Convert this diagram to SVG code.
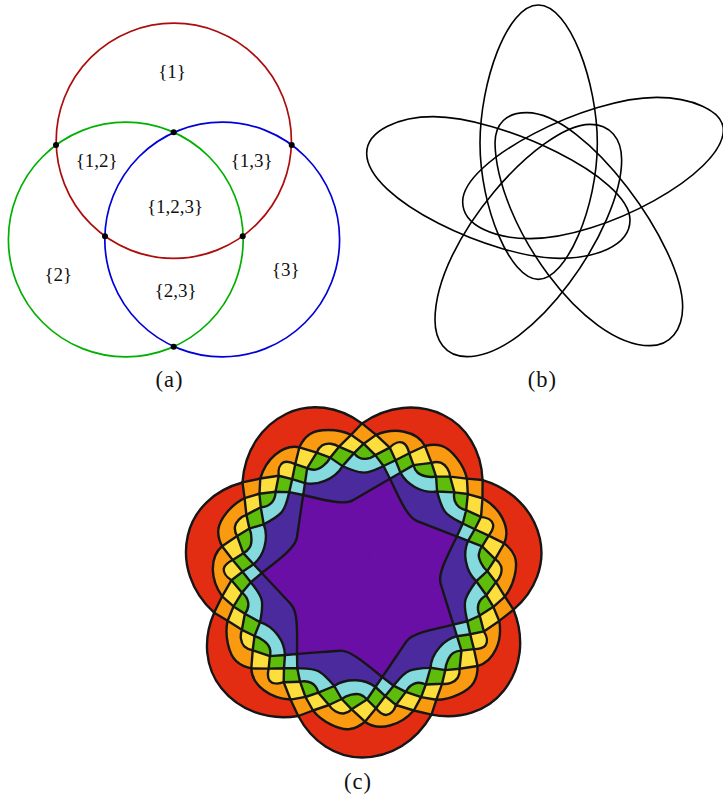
<svg xmlns="http://www.w3.org/2000/svg" xmlns:xlink="http://www.w3.org/1999/xlink" width="723" height="797" viewBox="0 0 723 797">
<style>
text{font-family:"Liberation Serif","Times New Roman",serif;fill:#111;text-anchor:middle}
.s{font-size:19px}
.c{font-size:22.5px;letter-spacing:1px}
.ring{fill:none;stroke-width:1.7}
.dot{fill:#000}
.oval{fill:none;stroke:#000;stroke-width:4.8}
.w{stroke-width:1;stroke-linejoin:round}
.b{fill:none;stroke:#161616;stroke-width:2.4;stroke-linejoin:round;stroke-linecap:round}
.r1{fill:#e32d13;stroke:#e32d13}.r2{fill:#fa9a10;stroke:#fa9a10}.r3{fill:#fcde3c;stroke:#fcde3c}.r4{fill:#5ebd0a;stroke:#5ebd0a}.r5{fill:#84dadd;stroke:#84dadd}.r6{fill:#4a2a9c;stroke:#4a2a9c}.r7{fill:#6a0fa6;stroke:#6a0fa6}
</style>
<defs>
<path id="w1" class="w r1" d="M363.5 577L298.3 716C312 742 336 757.5 362 757.5C390 757.5 416 742 431.5 714.7Z"/>
<path id="w2" class="w r2" d="M363.5 577L298.3 716L313 710.5C322 722 340 730.5 350 729C357 728 361 725 365 721.7C372 727 382 727.5 390 725.5C400 723 408 717 413.8 710.5L431.5 714.7Z"/>
<path id="w3" class="w r3" d="M363.5 577L305.5 697L313 710.5L329 705C332 710 338 714 343.5 713.5C347 713 350 711 351.7 709.3L365 721.7L376 708.3C379 712 382 715 386 715C390 715 394 711 396 705L413.8 710.5L421.1 697.1Z"/>
<path id="w4" class="w r4" d="M363.5 577L300 681.7L305.5 697L318.3 692.7L329 705L341.7 699L351.7 709.3L367 699.5L376 708.3L385.3 696.1L396 705L405.8 691.9Z"/>
<path id="w5" class="w r5" d="M363.5 577L297.3 668.3L300 681.7C308 680 316 683 318.3 692.7L334.3 686L341.7 699C347 695 356 693 360 694.5C363 695.5 365.5 697.5 367 699.5L375.5 687L385.3 696.1L393.6 685.7Z"/>
<path id="w6" class="w r6" d="M363.5 577L297.3 668.3C305 668.5 313 668 319 671.5C325 675 330 681 334.3 686C340 682 349 680 356 680.3C364 680.5 370 683 375.5 687L382.24 677L393.6 685.7Z"/>
<path id="w7" class="w r7" d="M363.5 577L297 654C312 653 328 651.5 340 650.7C350 650 365 663 382.24 677Z"/>
<g id="lines" class="b">
<path d="M298.3 716C312 742 336 757.5 362 757.5C390 757.5 416 742 431.5 714.7"/>
<path d="M298.3 716L313 710.5C322 722 340 730.5 350 729C357 728 361 725 365 721.7C372 727 382 727.5 390 725.5C400 723 408 717 413.8 710.5L431.5 714.7"/>
<path d="M305.5 697L313 710.5L329 705C332 710 338 714 343.5 713.5C347 713 350 711 351.7 709.3L365 721.7L376 708.3C379 712 382 715 386 715C390 715 394 711 396 705L413.8 710.5L421.1 697.1"/>
<path d="M300 681.7L305.5 697L318.3 692.7L329 705L341.7 699L351.7 709.3L367 699.5L376 708.3L385.3 696.1L396 705L405.8 691.9"/>
<path d="M297.3 668.3L300 681.7C308 680 316 683 318.3 692.7L334.3 686L341.7 699C347 695 356 693 360 694.5C363 695.5 365.5 697.5 367 699.5L375.5 687L385.3 696.1L393.6 685.7"/>
<path d="M297.3 668.3C305 668.5 313 668 319 671.5C325 675 330 681 334.3 686C340 682 349 680 356 680.3C364 680.5 370 683 375.5 687L382.24 677L393.6 685.7"/>
<path d="M297 654C312 653 328 651.5 340 650.7C350 650 365 663 382.24 677"/>
</g>
<g id="f1"><use href="#w1"/><use href="#w1" transform="rotate(51.42857 363.5 577)"/><use href="#w1" transform="rotate(102.85714 363.5 577)"/><use href="#w1" transform="rotate(154.28571 363.5 577)"/><use href="#w1" transform="rotate(205.71429 363.5 577)"/><use href="#w1" transform="rotate(257.14286 363.5 577)"/><use href="#w1" transform="rotate(308.57143 363.5 577)"/></g>
<g id="f2"><use href="#w2"/><use href="#w2" transform="rotate(51.42857 363.5 577)"/><use href="#w2" transform="rotate(102.85714 363.5 577)"/><use href="#w2" transform="rotate(154.28571 363.5 577)"/><use href="#w2" transform="rotate(205.71429 363.5 577)"/><use href="#w2" transform="rotate(257.14286 363.5 577)"/><use href="#w2" transform="rotate(308.57143 363.5 577)"/></g>
<g id="f3"><use href="#w3"/><use href="#w3" transform="rotate(51.42857 363.5 577)"/><use href="#w3" transform="rotate(102.85714 363.5 577)"/><use href="#w3" transform="rotate(154.28571 363.5 577)"/><use href="#w3" transform="rotate(205.71429 363.5 577)"/><use href="#w3" transform="rotate(257.14286 363.5 577)"/><use href="#w3" transform="rotate(308.57143 363.5 577)"/></g>
<g id="f4"><use href="#w4"/><use href="#w4" transform="rotate(51.42857 363.5 577)"/><use href="#w4" transform="rotate(102.85714 363.5 577)"/><use href="#w4" transform="rotate(154.28571 363.5 577)"/><use href="#w4" transform="rotate(205.71429 363.5 577)"/><use href="#w4" transform="rotate(257.14286 363.5 577)"/><use href="#w4" transform="rotate(308.57143 363.5 577)"/></g>
<g id="f5"><use href="#w5"/><use href="#w5" transform="rotate(51.42857 363.5 577)"/><use href="#w5" transform="rotate(102.85714 363.5 577)"/><use href="#w5" transform="rotate(154.28571 363.5 577)"/><use href="#w5" transform="rotate(205.71429 363.5 577)"/><use href="#w5" transform="rotate(257.14286 363.5 577)"/><use href="#w5" transform="rotate(308.57143 363.5 577)"/></g>
<g id="f6"><use href="#w6"/><use href="#w6" transform="rotate(51.42857 363.5 577)"/><use href="#w6" transform="rotate(102.85714 363.5 577)"/><use href="#w6" transform="rotate(154.28571 363.5 577)"/><use href="#w6" transform="rotate(205.71429 363.5 577)"/><use href="#w6" transform="rotate(257.14286 363.5 577)"/><use href="#w6" transform="rotate(308.57143 363.5 577)"/></g>
<g id="f7"><use href="#w7"/><use href="#w7" transform="rotate(51.42857 363.5 577)"/><use href="#w7" transform="rotate(102.85714 363.5 577)"/><use href="#w7" transform="rotate(154.28571 363.5 577)"/><use href="#w7" transform="rotate(205.71429 363.5 577)"/><use href="#w7" transform="rotate(257.14286 363.5 577)"/><use href="#w7" transform="rotate(308.57143 363.5 577)"/></g>
</defs>
<rect width="723" height="797" fill="#fff"/>
<g id="venn-a">
<circle class="ring" cx="173.8" cy="140.8" r="117.6" stroke="#ad0c0c"/>
<circle class="ring" cx="125.8" cy="239.5" r="117.4" stroke="#00b000"/>
<circle class="ring" cx="222.2" cy="239.5" r="117.4" stroke="#0000d8"/>
<circle class="dot" cx="56" cy="145" r="3"/><circle class="dot" cx="291.7" cy="145" r="3"/><circle class="dot" cx="173.7" cy="132.3" r="3"/><circle class="dot" cx="105" cy="236.3" r="3"/><circle class="dot" cx="242.7" cy="236.3" r="3"/><circle class="dot" cx="173.7" cy="346.7" r="3"/>
<text class="s" x="172" y="78">{1}</text>
<text class="s" x="96.7" y="167">{1,2}</text>
<text class="s" x="251.7" y="167">{1,3}</text>
<text class="s" x="175" y="213">{1,2,3}</text>
<text class="s" x="58.3" y="281">{2}</text>
<text class="s" x="175.7" y="297">{2,3}</text>
<text class="s" x="285.7" y="276">{3}</text>
<text class="c" x="169.5" y="387">(a)</text>
</g>
<g id="ovals-b">
<g transform="translate(360 0) scale(.33333)">
<path class="oval" d="M535 15C630 15 712 250 712 430C712 620 620 838 535 838C450 838 360 620 360 430C360 250 440 15 535 15Z"/>
<path class="oval" d="M20 460C20 390 120 350 220 350C420 350 810 530 810 660C810 740 700 775 600 775C400 775 20 600 20 460Z"/>
<path class="oval" d="M1090 390C1090 330 990 292 890 292C680 292 308 480 308 605C308 680 410 716 510 716C730 716 1090 520 1090 390Z"/>
<path class="oval" d="M500 338C680 338 968 740 968 920C968 990 930 1037 870 1037C670 1037 410 670 405 430C405 370 440 338 500 338Z"/>
<path class="oval" d="M320 1070C255 1070 225 1020 225 960C225 720 540 373 690 373C750 373 785 415 785 480C785 680 520 1070 320 1070Z"/>
</g>
<text class="c" x="542.3" y="387">(b)</text>
</g>
<g id="rainbow-c">
<use href="#f1"/><use href="#f2"/><use href="#f3"/><use href="#f4"/><use href="#f5"/><use href="#f6"/><use href="#f7"/>
<use href="#lines"/><use href="#lines" transform="rotate(51.42857 363.5 577)"/><use href="#lines" transform="rotate(102.85714 363.5 577)"/><use href="#lines" transform="rotate(154.28571 363.5 577)"/><use href="#lines" transform="rotate(205.71429 363.5 577)"/><use href="#lines" transform="rotate(257.14286 363.5 577)"/><use href="#lines" transform="rotate(308.57143 363.5 577)"/>
<text class="c" x="358" y="789">(c)</text>
</g>
</svg>
